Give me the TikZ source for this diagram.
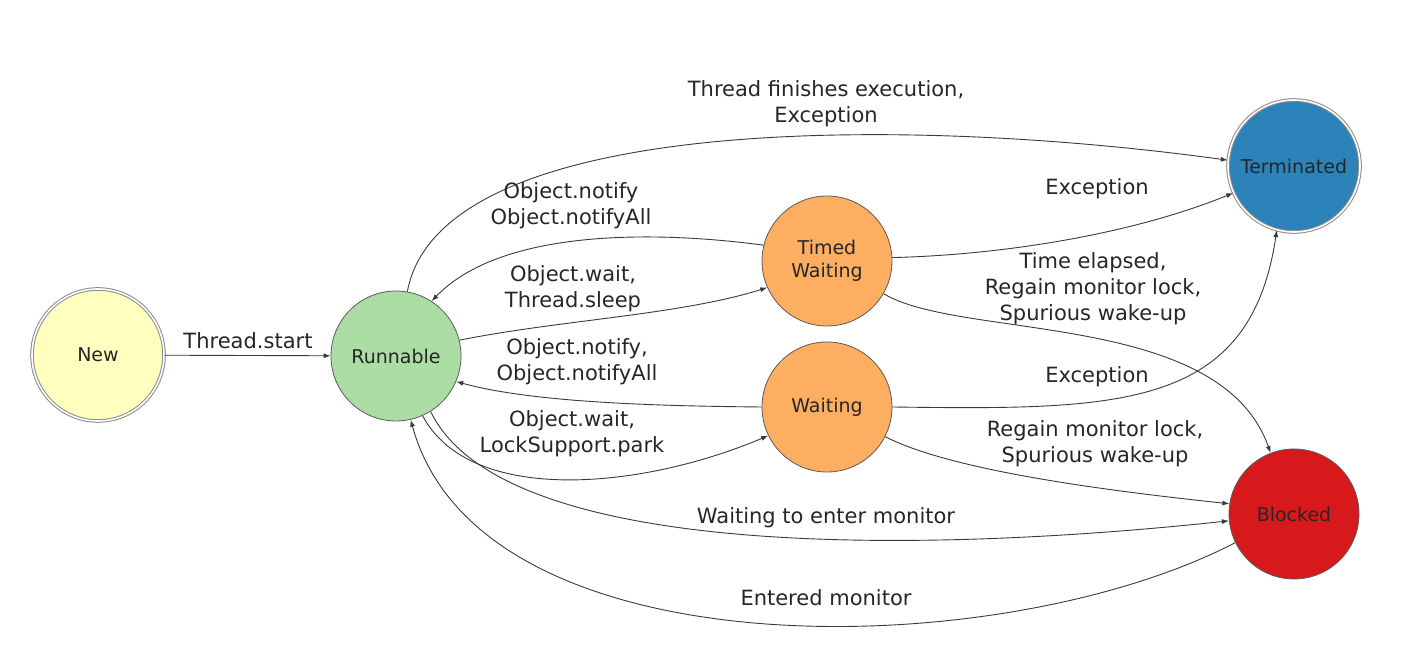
\documentclass[tikz,border=0pt]{standalone}
\usepackage{fontspec}
\setmainfont{DejaVu Sans}
\usepackage{tikz}
\usetikzlibrary{arrows.meta}
\definecolor{stnew}{HTML}{FFFFBF}
\definecolor{strun}{HTML}{ABDDA4}
\definecolor{stwait}{HTML}{FDAE61}
\definecolor{stterm}{HTML}{2B83BA}
\definecolor{stblk}{HTML}{D7191C}
\definecolor{edgeink}{HTML}{3A3A3A}
\tikzset{
  stnode/.style={circle, draw=black!65, line width=0.8pt, minimum size=130pt, inner sep=0pt,
    align=center, font=\fontsize{19}{23}\selectfont, text=black!85},
  dblnode/.style={stnode, draw=black!45, line width=1pt, double=white, double distance=1.6pt, minimum size=132pt},
  lbl/.style={align=center, font=\fontsize{21}{26}\selectfont, text=black!85, inner sep=0pt},
  flow/.style={-{Latex[length=7pt, width=5pt]}, draw=edgeink, line width=0.9pt}
}
\begin{document}
\begin{tikzpicture}[x=1pt, y=1pt]
\useasboundingbox (0,0) rectangle (1422,660);
% states
\node[dblnode, fill=stnew] (new) at (98,305) {New};
\node[stnode, fill=strun] (run) at (396,304) {Runnable};
\node[stnode, fill=stwait] (tw) at (827,399) {Timed\\Waiting};
\node[stnode, fill=stwait] (wait) at (827,253) {Waiting};
\node[dblnode, fill=stterm] (term) at (1294,494) {Terminated};
\node[stnode, fill=stblk] (blk) at (1294,146) {Blocked};
% transitions
\draw[flow] (new) -- (run);
\draw[flow] (run.80) .. controls (440,545) and (900,545) .. (term.175);
\draw[flow] (tw.166) .. controls (650,430) and (500,430) .. (run.57);
\draw[flow] (run.14) .. controls (560,340) and (680,345) .. (tw.204);
\draw[flow] (wait.180) .. controls (650,254) and (530,258) .. (run.-23);
\draw[flow] (run.-66) .. controls (470,155) and (640,170) .. (wait.206);
\draw[flow] (tw.3) .. controls (1000,405) and (1130,425) .. (term.204);
\draw[flow] (tw.-30) .. controls (960,320) and (1220,350) .. (blk.111);
\draw[flow] (wait.0) .. controls (1120,250) and (1250,250) .. (term.255);
\draw[flow] (wait.-27) .. controls (950,190) and (1100,170) .. (blk.171);
\draw[flow] (run.-58) .. controls (500,104) and (900,104) .. (blk.186);
\draw[flow] (blk.206) .. controls (1000,-5) and (480,-15) .. (run.-77);
% labels
\node[lbl] (lstart) at (248,319) {Thread.start};
\node[lbl] (lfinish) at (826,556) {Thread finishes execution,\\Exception};
\node[lbl] (lnotifytw) at (571,454) {Object.notify\\Object.notifyAll};
\node[lbl] (lsleep) at (573,371) {Object.wait,\\Thread.sleep};
\node[lbl] (lnotifyw) at (577,298) {Object.notify,\\Object.notifyAll};
\node[lbl] (lpark) at (572,226) {Object.wait,\\LockSupport.park};
\node[lbl] (lexctw) at (1097,471) {Exception};
\node[lbl] (lelapsed) at (1093,371) {Time elapsed,\\Regain monitor lock,\\Spurious wake-up};
\node[lbl] (lexcw) at (1097,283) {Exception};
\node[lbl] (lregain) at (1095,216) {Regain monitor lock,\\Spurious wake-up};
\node[lbl] (lenter) at (826,142) {Waiting to enter monitor};
\node[lbl] (lentered) at (826,62) {Entered monitor};
\end{tikzpicture}
\end{document}
